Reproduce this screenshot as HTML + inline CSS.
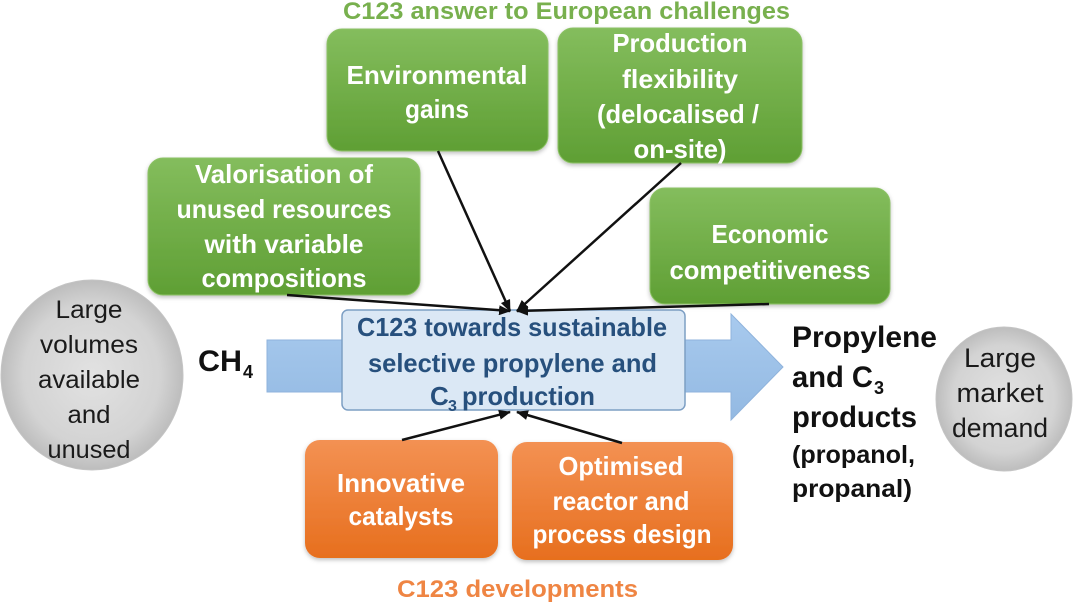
<!DOCTYPE html>
<html>
<head>
<meta charset="utf-8">
<style>
  html, body { margin: 0; padding: 0; background: #ffffff; }
  body { width: 1080px; height: 608px; overflow: hidden; }
  svg { display: block; }
  text { font-family: "Liberation Sans", Arial, sans-serif; }
</style>
</head>
<body>
<svg width="1080" height="608" viewBox="0 0 1080 608" xmlns="http://www.w3.org/2000/svg">
  <defs>
    <linearGradient id="green" x1="0" y1="0" x2="0" y2="1">
      <stop offset="0" stop-color="#84bd5d"/>
      <stop offset="1" stop-color="#5f9f34"/>
    </linearGradient>
    <linearGradient id="orange" x1="0" y1="0" x2="0" y2="1">
      <stop offset="0" stop-color="#f39153"/>
      <stop offset="1" stop-color="#e76f1e"/>
    </linearGradient>
    <radialGradient id="gray" cx="0.5" cy="0.5" r="0.5">
      <stop offset="0" stop-color="#e2e2e2"/>
      <stop offset="0.75" stop-color="#d3d3d3"/>
      <stop offset="1" stop-color="#bdbdbd"/>
    </radialGradient>
    <linearGradient id="arrowg" x1="0" y1="0" x2="0" y2="1">
      <stop offset="0" stop-color="#a8caee"/>
      <stop offset="1" stop-color="#93b9e2"/>
    </linearGradient>
    <filter id="sh" x="-10%" y="-10%" width="120%" height="130%">
      <feDropShadow dx="0" dy="2" stdDeviation="2" flood-color="#000" flood-opacity="0.25"/>
    </filter>
    <marker id="ah" markerUnits="userSpaceOnUse" markerWidth="12" markerHeight="10" refX="11" refY="5" orient="auto">
      <path d="M0,0 L12,5 L0,10 z" fill="#111"/>
    </marker>
  </defs>

  <!-- Title -->
  <text x="343" y="19" font-size="24" font-weight="bold" fill="#78b04e" textLength="447" lengthAdjust="spacingAndGlyphs">C123 answer to European challenges</text>

  <!-- Left circle -->
  <ellipse cx="92" cy="375" rx="91" ry="95" fill="url(#gray)" stroke="#c4c4c4" stroke-width="1"/>
  <g font-size="25" fill="#1a1a1a" text-anchor="middle">
    <text x="89" y="318" textLength="67" lengthAdjust="spacingAndGlyphs">Large</text>
    <text x="89" y="353" textLength="98" lengthAdjust="spacingAndGlyphs">volumes</text>
    <text x="89" y="388" textLength="102" lengthAdjust="spacingAndGlyphs">available</text>
    <text x="89" y="423" textLength="43" lengthAdjust="spacingAndGlyphs">and</text>
    <text x="89" y="458" textLength="83" lengthAdjust="spacingAndGlyphs">unused</text>
  </g>

  <!-- Right circle -->
  <ellipse cx="1004" cy="399" rx="68" ry="72" fill="url(#gray)" stroke="#c4c4c4" stroke-width="1"/>
  <g font-size="27" fill="#1a1a1a" text-anchor="middle">
    <text x="1000" y="367" textLength="72" lengthAdjust="spacingAndGlyphs">Large</text>
    <text x="1000" y="402" textLength="87" lengthAdjust="spacingAndGlyphs">market</text>
    <text x="1000" y="437" textLength="96" lengthAdjust="spacingAndGlyphs">demand</text>
  </g>

  <!-- CH4 -->
  <text x="198" y="371" font-size="30" font-weight="bold" fill="#111" textLength="44" lengthAdjust="spacingAndGlyphs">CH</text>
  <text x="243" y="378" font-size="18" font-weight="bold" fill="#111">4</text>

  <!-- Big arrow -->
  <polygon points="267,340 731,340 731,314 783,367 731,420 731,392 267,392" fill="url(#arrowg)" stroke="#8fb3dc" stroke-width="1"/>

  <!-- Center box -->
  <rect x="342" y="310" width="343" height="100" rx="6" ry="6" fill="#dbe8f5" stroke="#7d9fc4" stroke-width="1.5"/>
  <g font-size="26" font-weight="bold" fill="#27507d">
    <text x="357" y="336" textLength="310" lengthAdjust="spacingAndGlyphs">C123 towards sustainable</text>
    <text x="368" y="372" textLength="289" lengthAdjust="spacingAndGlyphs">selective propylene and</text>
    <text x="430" y="405">C</text>
    <text x="448" y="411" font-size="16">3</text>
    <text x="462" y="405" textLength="133" lengthAdjust="spacingAndGlyphs">production</text>
  </g>

  <!-- Green boxes -->
  <g filter="url(#sh)">
    <rect x="327" y="29" width="221" height="122" rx="15" ry="15" fill="url(#green)" stroke="#8cc265" stroke-width="1"/>
    <rect x="558" y="28" width="244" height="135" rx="15" ry="15" fill="url(#green)" stroke="#8cc265" stroke-width="1"/>
    <rect x="148" y="158" width="272" height="137" rx="15" ry="15" fill="url(#green)" stroke="#8cc265" stroke-width="1"/>
    <rect x="650" y="188" width="240" height="116" rx="15" ry="15" fill="url(#green)" stroke="#8cc265" stroke-width="1"/>
  </g>
  <g font-size="26" font-weight="bold" fill="#ffffff" text-anchor="middle">
    <text x="437" y="84" textLength="181" lengthAdjust="spacingAndGlyphs">Environmental</text>
    <text x="437" y="118" textLength="64" lengthAdjust="spacingAndGlyphs">gains</text>

    <text x="680" y="52" textLength="135" lengthAdjust="spacingAndGlyphs">Production</text>
    <text x="680" y="88" textLength="116" lengthAdjust="spacingAndGlyphs">flexibility</text>
    <text x="678" y="123" textLength="162" lengthAdjust="spacingAndGlyphs">(delocalised /</text>
    <text x="680" y="158" textLength="93" lengthAdjust="spacingAndGlyphs">on-site)</text>

    <text x="284" y="183" textLength="178" lengthAdjust="spacingAndGlyphs">Valorisation of</text>
    <text x="284" y="218" textLength="215" lengthAdjust="spacingAndGlyphs">unused resources</text>
    <text x="284" y="253" textLength="159" lengthAdjust="spacingAndGlyphs">with variable</text>
    <text x="284" y="287" textLength="165" lengthAdjust="spacingAndGlyphs">compositions</text>

    <text x="770" y="243" textLength="117" lengthAdjust="spacingAndGlyphs">Economic</text>
    <text x="770" y="279" textLength="201" lengthAdjust="spacingAndGlyphs">competitiveness</text>
  </g>

  <!-- Orange boxes -->
  <g filter="url(#sh)">
    <rect x="305" y="440" width="193" height="118" rx="15" ry="15" fill="url(#orange)"/>
    <rect x="512" y="442" width="221" height="118" rx="15" ry="15" fill="url(#orange)"/>
  </g>
  <g font-size="26" font-weight="bold" fill="#ffffff" text-anchor="middle">
    <text x="401" y="492" textLength="128" lengthAdjust="spacingAndGlyphs">Innovative</text>
    <text x="401" y="525" textLength="105" lengthAdjust="spacingAndGlyphs">catalysts</text>
    <text x="621" y="475" textLength="125" lengthAdjust="spacingAndGlyphs">Optimised</text>
    <text x="621" y="510" textLength="137" lengthAdjust="spacingAndGlyphs">reactor and</text>
    <text x="622" y="543" textLength="179" lengthAdjust="spacingAndGlyphs">process design</text>
  </g>

  <!-- C123 developments -->
  <text x="397" y="597" font-size="24" font-weight="bold" fill="#ef8543" textLength="241" lengthAdjust="spacingAndGlyphs">C123 developments</text>

  <!-- Propylene text -->
  <g font-weight="bold" fill="#111">
    <text x="792" y="347" font-size="30" textLength="145" lengthAdjust="spacingAndGlyphs">Propylene</text>
    <text x="792" y="387" font-size="30" textLength="81" lengthAdjust="spacingAndGlyphs">and C</text>
    <text x="874" y="394" font-size="18">3</text>
    <text x="792" y="427" font-size="30" textLength="125" lengthAdjust="spacingAndGlyphs">products</text>
    <text x="792" y="463" font-size="25" textLength="123" lengthAdjust="spacingAndGlyphs">(propanol,</text>
    <text x="792" y="497" font-size="25" textLength="120" lengthAdjust="spacingAndGlyphs">propanal)</text>
  </g>

  <!-- Connectors -->
  <g stroke="#111" stroke-width="2.5" fill="none">
    <line x1="287" y1="295" x2="510" y2="311" marker-end="url(#ah)"/>
    <line x1="438" y1="151" x2="510" y2="311" marker-end="url(#ah)"/>
    <line x1="681" y1="163" x2="517" y2="311" marker-end="url(#ah)"/>
    <line x1="769" y1="304" x2="517" y2="311" marker-end="url(#ah)"/>
    <line x1="402" y1="440" x2="510" y2="412" marker-end="url(#ah)"/>
    <line x1="622" y1="443" x2="517" y2="412" marker-end="url(#ah)"/>
  </g>
</svg>
</body>
</html>
